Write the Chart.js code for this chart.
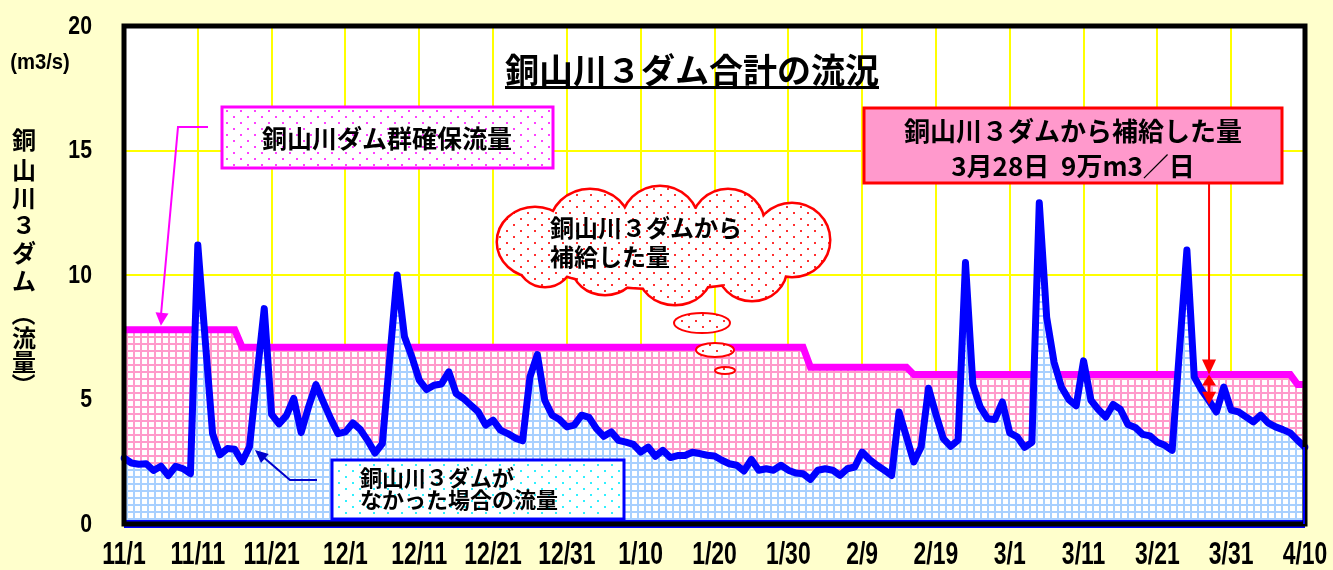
<!DOCTYPE html>
<html>
<head>
<meta charset="utf-8">
<title>銅山川３ダム合計の流況</title>
<script src="https://cdn.jsdelivr.net/npm/chart.js@4.4.1/dist/chart.umd.min.js"></script>
<style>
html, body { margin: 0; padding: 0; background: #FFFFCC; }
</style>
</head>
<body>
<canvas id="flowChart" width="1333" height="570"></canvas>
<script>
// period on the x axis: [month, number of days shown]
var months = [[11, 30], [12, 31], [1, 31], [2, 28], [3, 31], [4, 10]];
var days = [];
months.forEach(function (m) {
  for (var d = 1; d <= m[1]; d++) days.push(m[0] + '/' + d);
});

// 銅山川３ダムがなかった場合の流量 (m3/s), 11/1 .. 4/10
var flowWithoutDams = [
  2.65, 2.45, 2.4, 2.42, 2.15, 2.32, 1.95, 2.32, 2.22, 2.02,
  11.2, 7.4, 3.63, 2.78, 3.03, 3.0, 2.5, 3.1, 5.9, 8.65,
  4.4, 4.02, 4.35, 5.04, 3.67, 4.7, 5.6, 4.9, 4.23, 3.63,
  3.7, 4.06, 3.8, 3.36, 2.85, 3.23, 6.65, 10.0, 7.52, 6.71,
  5.78, 5.4, 5.57, 5.62, 6.11, 5.24, 5.04, 4.77, 4.5, 3.97,
  4.17, 3.77, 3.63, 3.45, 3.34, 5.91, 6.8, 4.97, 4.37, 4.2,
  3.9, 3.97, 4.37, 4.28, 3.83, 3.52, 3.7, 3.36, 3.29, 3.2,
  2.89, 3.09, 2.72, 2.96, 2.67, 2.75, 2.75, 2.88, 2.83, 2.76,
  2.73, 2.56, 2.42, 2.36, 2.13, 2.59, 2.16, 2.22, 2.16, 2.36,
  2.16, 2.05, 2.02, 1.79, 2.16, 2.22, 2.16, 1.95, 2.22, 2.29,
  2.89, 2.59, 2.36, 2.16, 1.95, 4.5, 3.5, 2.49, 3.09, 5.45,
  4.4, 3.43, 3.12, 3.37, 10.5, 5.6, 4.7, 4.23, 4.2, 4.9,
  3.66, 3.5, 3.08, 3.28, 12.9, 8.3, 6.5, 5.5, 5.0, 4.75,
  6.55, 4.97, 4.6, 4.3, 4.8, 4.6, 4.0, 3.88, 3.6, 3.54,
  3.28, 3.16, 2.96, 7.0, 11.0, 5.9, 5.37, 4.95, 4.5, 5.5,
  4.57, 4.5, 4.3, 4.1, 4.37, 4.06, 3.9, 3.79, 3.66, 3.36,
  3.09
];

// 銅山川ダム群確保流量 (m3/s)
var securedFlow = [
  7.8, 7.8, 7.8, 7.8, 7.8, 7.8, 7.8, 7.8, 7.8, 7.8,
  7.8, 7.8, 7.8, 7.8, 7.8, 7.8, 7.1, 7.1, 7.1, 7.1,
  7.1, 7.1, 7.1, 7.1, 7.1, 7.1, 7.1, 7.1, 7.1, 7.1,
  7.1, 7.1, 7.1, 7.1, 7.1, 7.1, 7.1, 7.1, 7.1, 7.1,
  7.1, 7.1, 7.1, 7.1, 7.1, 7.1, 7.1, 7.1, 7.1, 7.1,
  7.1, 7.1, 7.1, 7.1, 7.1, 7.1, 7.1, 7.1, 7.1, 7.1,
  7.1, 7.1, 7.1, 7.1, 7.1, 7.1, 7.1, 7.1, 7.1, 7.1,
  7.1, 7.1, 7.1, 7.1, 7.1, 7.1, 7.1, 7.1, 7.1, 7.1,
  7.1, 7.1, 7.1, 7.1, 7.1, 7.1, 7.1, 7.1, 7.1, 7.1,
  7.1, 7.1, 7.1, 6.3, 6.3, 6.3, 6.3, 6.3, 6.3, 6.3,
  6.3, 6.3, 6.3, 6.3, 6.3, 6.3, 6.3, 6.0, 6.0, 6.0,
  6.0, 6.0, 6.0, 6.0, 6.0, 6.0, 6.0, 6.0, 6.0, 6.0,
  6.0, 6.0, 6.0, 6.0, 6.0, 6.0, 6.0, 6.0, 6.0, 6.0,
  6.0, 6.0, 6.0, 6.0, 6.0, 6.0, 6.0, 6.0, 6.0, 6.0,
  6.0, 6.0, 6.0, 6.0, 6.0, 6.0, 6.0, 6.0, 6.0, 6.0,
  6.0, 6.0, 6.0, 6.0, 6.0, 6.0, 6.0, 6.0, 6.0, 5.6,
  5.6
];

var yTickStep = 5;
var labelEvery = 10;      // one date label every 10 days
var supplyDay = '3/28';   // day marked with the red arrow

var CJK = '"Noto Sans CJK JP", "Noto Sans CJK SC", sans-serif';
var DIGITS = '"Liberation Sans", Arial, sans-serif';

function gridPattern(line) {
  var c = document.createElement('canvas');
  c.width = 7; c.height = 7;
  var g = c.getContext('2d');
  g.fillStyle = '#fff'; g.fillRect(0, 0, 7, 7);
  g.fillStyle = line;
  g.fillRect(0, 0, 7, 2); g.fillRect(0, 0, 2, 7);
  return g.createPattern(c, 'repeat');
}

function dotPattern(dot) {
  var c = document.createElement('canvas');
  c.width = 14; c.height = 12;
  var g = c.getContext('2d');
  g.fillStyle = '#fff'; g.fillRect(0, 0, 14, 12);
  g.fillStyle = dot;
  g.fillRect(2, 2, 2, 2); g.fillRect(9, 8, 2, 2);
  return g.createPattern(c, 'repeat');
}

var blueGrid = gridPattern('#A8D0FF');
var pinkGrid = gridPattern('#FF9ACB');

function arrowHead(ctx, fx, fy, tx, ty, len, half) {
  var a = Math.atan2(ty - fy, tx - fx);
  ctx.beginPath();
  ctx.moveTo(tx, ty);
  ctx.lineTo(tx - len * Math.cos(a) + half * Math.sin(a), ty - len * Math.sin(a) - half * Math.cos(a));
  ctx.lineTo(tx - len * Math.cos(a) - half * Math.sin(a), ty - len * Math.sin(a) + half * Math.cos(a));
  ctx.closePath();
  ctx.fill();
}

function box(ctx, x, y, w, h, stroke, fill, lw) {
  ctx.fillStyle = fill;
  ctx.fillRect(x, y, w, h);
  ctx.strokeStyle = stroke;
  ctx.lineWidth = lw;
  ctx.strokeRect(x, y, w, h);
}

// narrow text: squeeze horizontally around the anchor point
function narrowText(ctx, text, x, y, squeeze) {
  ctx.save();
  ctx.translate(x, y);
  ctx.scale(squeeze, 1);
  ctx.fillText(text, 0, 0);
  ctx.restore();
}

var background = {
  id: 'background',
  beforeDraw: function (chart) {
    var ctx = chart.ctx, a = chart.chartArea;
    ctx.save();
    ctx.fillStyle = '#FFFFCC';
    ctx.fillRect(0, 0, chart.width, chart.height);
    ctx.fillStyle = '#fff';
    ctx.fillRect(a.left, a.top, a.right - a.left, a.bottom - a.top);
    ctx.restore();
  }
};

var frame = {
  id: 'frame',
  afterDatasetsDraw: function (chart) {
    var ctx = chart.ctx, a = chart.chartArea;
    var xs = chart.scales.x, ys = chart.scales.y;
    var last = flowWithoutDams.length - 1;
    ctx.save();
    ctx.strokeStyle = '#0000FF';
    ctx.lineWidth = 8;
    ctx.beginPath();
    ctx.moveTo(xs.getPixelForValue(0), ys.getPixelForValue(0));
    ctx.lineTo(xs.getPixelForValue(last), ys.getPixelForValue(0));
    ctx.stroke();
    ctx.strokeStyle = '#000';
    ctx.lineWidth = 5;
    ctx.strokeRect(a.left, a.top, a.right - a.left, a.bottom - a.top);
    ctx.strokeStyle = '#0000FF';
    ctx.lineWidth = 2;
    ctx.beginPath();
    ctx.moveTo(xs.getPixelForValue(last) - 1, ys.getPixelForValue(flowWithoutDams[last]));
    ctx.lineTo(xs.getPixelForValue(last) - 1, ys.getPixelForValue(0));
    ctx.stroke();
    ctx.restore();
  }
};

// tick labels in a tall narrow face, like the original
var tickLabels = {
  id: 'tickLabels',
  afterDraw: function (chart) {
    var ctx = chart.ctx, xs = chart.scales.x, ys = chart.scales.y;
    ctx.save();
    ctx.fillStyle = '#000';
    ctx.textBaseline = 'middle';
    ctx.textAlign = 'center';
    ctx.font = 'bold 31px ' + DIGITS;
    xs.ticks.forEach(function (t, i) {
      if (t.label === null || t.label === undefined) return;
      narrowText(ctx, t.label, xs.getPixelForTick(i), ys.bottom + 31, 0.74);
    });
    ctx.textAlign = 'right';
    ctx.font = 'bold 25px ' + DIGITS;
    ys.ticks.forEach(function (t, i) {
      narrowText(ctx, t.label, ys.right - 32, ys.getPixelForTick(i) + 1, 0.85);
    });
    ctx.restore();
  }
};

var notes = {
  id: 'notes',
  afterDraw: function (chart) {
    var ctx = chart.ctx;
    var xs = chart.scales.x, ys = chart.scales.y;
    ctx.save();
    ctx.textBaseline = 'middle';

    // title
    ctx.fillStyle = '#000';
    ctx.font = 'bold 34px ' + CJK;
    ctx.textAlign = 'center';
    var title = '銅山川３ダム合計の流況';
    var tw = ctx.measureText(title).width;
    ctx.fillText(title, 692, 70);
    ctx.fillRect(692 - tw / 2, 86, tw, 3);

    // y axis title, stacked; brackets turned to lie flat
    var yTitle = ['銅', '山', '川', '３', 'ダ', 'ム', '（', '流', '量', '）'];
    var yPos = [140, 170, 198, 225, 253, 281, 314, 338, 362, 385];
    ctx.font = 'bold 24px ' + CJK;
    yTitle.forEach(function (ch, i) {
      if (ch === '（' || ch === '）') {
        ctx.save();
        ctx.translate(24, yPos[i]);
        ctx.rotate(Math.PI / 2);
        ctx.fillText(ch, 0, 0);
        ctx.restore();
      } else {
        ctx.fillText(ch, 24, yPos[i]);
      }
    });

    ctx.font = 'bold 22px ' + DIGITS;
    narrowText(ctx, '(m3/s)', 40, 63, 0.92);

    // 確保流量 box + leader
    box(ctx, 222, 107, 331, 61, '#FF00FF', dotPattern('#FF40FF'), 3);
    ctx.fillStyle = '#000';
    ctx.font = 'bold 25px ' + CJK;
    ctx.fillText('銅山川ダム群確保流量', 387, 138);
    var tipX = xs.getPixelForValue(5), tipY = ys.getPixelForValue(securedFlow[5]) - 4;
    ctx.strokeStyle = '#FF00FF';
    ctx.fillStyle = '#FF00FF';
    ctx.lineWidth = 2;
    ctx.beginPath();
    ctx.moveTo(208, 127); ctx.lineTo(178, 127); ctx.lineTo(tipX, tipY - 10);
    ctx.stroke();
    arrowHead(ctx, 178, 127, tipX, tipY, 13, 6.5);

    // なかった場合 box + leader
    box(ctx, 332, 460, 292, 59, '#0000FF', dotPattern('#30F0FF'), 3);
    ctx.fillStyle = '#000';
    ctx.font = 'bold 22px ' + CJK;
    ctx.textAlign = 'left';
    ctx.fillText('銅山川３ダムが', 360, 478);
    ctx.fillText('なかった場合の流量', 360, 500);
    ctx.strokeStyle = '#0000CC';
    ctx.fillStyle = '#0000CC';
    ctx.lineWidth = 2;
    ctx.beginPath();
    ctx.moveTo(317, 480); ctx.lineTo(290, 480); ctx.lineTo(262, 456);
    ctx.stroke();
    arrowHead(ctx, 290, 480, 255, 450, 13, 6);

    // cloud callout
    var redDots = dotPattern('#FF3030');
    var lobes = [[535, 242, 37, 34], [590, 228, 40, 38], [660, 224, 38, 37], [728, 226, 36, 36],
                 [792, 240, 37, 36], [752, 268, 34, 32], [675, 272, 36, 32], [605, 266, 32, 28],
                 [545, 262, 26, 24], [665, 248, 135, 40]];
    ctx.strokeStyle = '#FF0000';
    ctx.lineWidth = 5;
    lobes.forEach(function (l) {
      ctx.beginPath(); ctx.ellipse(l[0], l[1], l[2], l[3], 0, 0, Math.PI * 2); ctx.stroke();
    });
    ctx.fillStyle = redDots;
    lobes.forEach(function (l) {
      ctx.beginPath(); ctx.ellipse(l[0], l[1], l[2], l[3], 0, 0, Math.PI * 2); ctx.fill();
    });
    var bubbles = [[702, 323, 28, 10], [715, 350, 19, 7], [725, 370.5, 10, 3.5]];
    ctx.lineWidth = 2;
    bubbles.forEach(function (b) {
      ctx.beginPath(); ctx.ellipse(b[0], b[1], b[2], b[3], 0, 0, Math.PI * 2);
      ctx.fillStyle = redDots; ctx.fill(); ctx.stroke();
    });
    ctx.fillStyle = '#000';
    ctx.font = 'bold 24px ' + CJK;
    ctx.fillText('銅山川３ダムから', 550, 228);
    ctx.fillText('補給した量', 550, 257);

    // supplied amount box + red arrows
    box(ctx, 864, 108, 418, 75, '#FF0000', '#FF99CC', 3);
    ctx.fillStyle = '#000';
    ctx.textAlign = 'center';
    ctx.font = 'bold 26px ' + CJK;
    ctx.fillText('銅山川３ダムから補給した量', 1073, 131);
    ctx.fillText('3月28日  9万m3／日', 1073, 166);

    var i = days.indexOf(supplyDay);
    var ax = xs.getPixelForValue(i);
    var ym = ys.getPixelForValue(securedFlow[i]);
    var yb = ys.getPixelForValue(flowWithoutDams[i]);
    ctx.strokeStyle = '#FF0000';
    ctx.fillStyle = '#FF0000';
    ctx.lineWidth = 2;
    ctx.beginPath(); ctx.moveTo(ax, 183); ctx.lineTo(ax, ym - 12); ctx.stroke();
    arrowHead(ctx, ax, ym - 20, ax, ym, 15, 7);
    arrowHead(ctx, ax, ym + 20, ax, ym, 11, 7);
    ctx.lineWidth = 3;
    ctx.beginPath(); ctx.moveTo(ax, ym + 10); ctx.lineTo(ax, yb - 8); ctx.stroke();
    arrowHead(ctx, ax, yb - 20, ax, yb + 4, 13, 7);
    ctx.restore();
  }
};

var ctx = document.getElementById('flowChart').getContext('2d');
var flowChart = new Chart(ctx, {
  type: 'line',
  data: {
    labels: days,
    datasets: [
      {
        label: '銅山川３ダムがなかった場合の流量',
        data: flowWithoutDams,
        borderColor: '#0000FF',
        borderWidth: 7,
        borderJoinStyle: 'round',
        borderCapStyle: 'round',
        backgroundColor: blueGrid,
        fill: 'origin',
        pointRadius: 0,
        tension: 0
      },
      {
        label: '銅山川ダム群確保流量',
        data: securedFlow,
        borderColor: '#FF00FF',
        borderWidth: 7,
        backgroundColor: pinkGrid,
        fill: 'origin',
        pointRadius: 0,
        tension: 0
      }
    ]
  },
  options: {
    responsive: false,
    animation: false,
    layout: { padding: { top: 26, right: 28, left: 0, bottom: 0 } },
    plugins: { legend: { display: false }, tooltip: { enabled: false } },
    scales: {
      x: {
        // only the labelled days keep a tick, so every remaining tick gets a grid line
        grid: { color: '#FFFF00', lineWidth: 2, drawTicks: false },
        border: { display: false },
        ticks: {
          display: false, autoSkip: false, maxRotation: 0,
          callback: function (v, i) { return i % labelEvery === 0 ? days[i] : null; }
        },
        afterFit: function (s) { s.height = 46; s.paddingLeft = 0; s.paddingRight = 0; }
      },
      y: {
        min: 0, max: 20,
        grid: { color: '#FFFF00', lineWidth: 2, drawTicks: false },
        border: { display: false },
        ticks: { display: false, stepSize: yTickStep },
        afterFit: function (s) { s.width = 124; s.paddingTop = 0; s.paddingBottom = 0; }
      }
    }
  },
  plugins: [background, frame, tickLabels, notes]
});
</script>
</body>
</html>
